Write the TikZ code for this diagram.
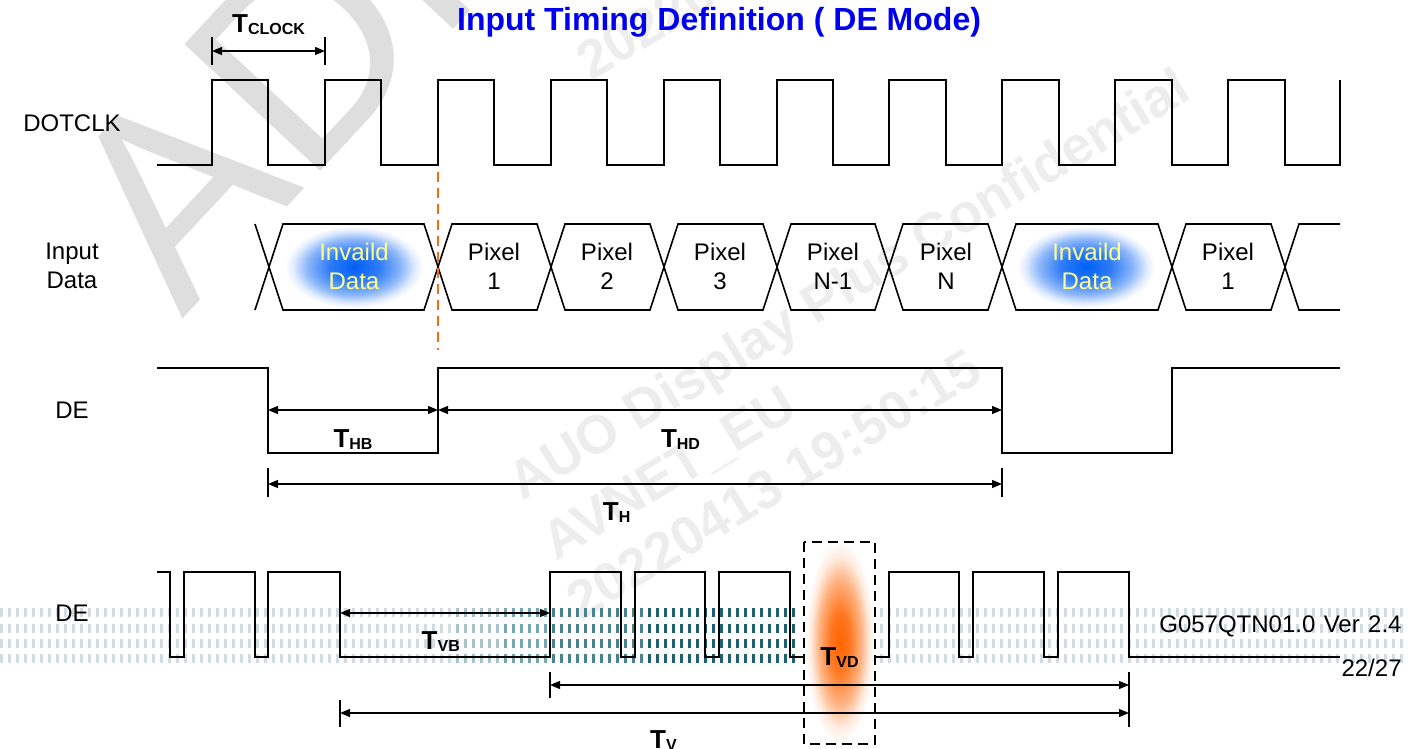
\documentclass[tikz,border=0pt]{standalone}
\usepackage{fontspec}
\setmainfont{Liberation Sans}
\usetikzlibrary{arrows.meta}
\definecolor{titleblue}{RGB}{0,0,240}
\definecolor{cutorange}{RGB}{240,110,30}
\definecolor{stripelight}{RGB}{208,220,226}
\definecolor{stripemid}{RGB}{120,165,175}
\definecolor{stripedark}{RGB}{30,95,112}
\definecolor{glowblue}{RGB}{0,95,245}
\definecolor{gloworange}{RGB}{255,100,0}
\definecolor{invalidtext}{RGB}{255,255,140}
\pgfdeclareradialshading{blueglow}{\pgfpoint{0bp}{0bp}}{color(0bp)=(glowblue);color(9bp)=(glowblue!82!white);color(17bp)=(glowblue!45!white);color(22bp)=(glowblue!12!white);color(25bp)=(white);color(50bp)=(white)}
\pgfdeclareradialshading{orangeglow}{\pgfpoint{0bp}{0bp}}{color(0bp)=(gloworange);color(7bp)=(gloworange!88!white);color(15bp)=(gloworange!50!white);color(21bp)=(gloworange!12!white);color(25bp)=(white);color(50bp)=(white)}
\newcommand{\tlab}[1]{\textbf{\fontsize{13}{13}\selectfont T\raisebox{-1pt}{\fontsize{8}{8}\selectfont #1}}}
\tikzset{
	wave/.style={line width=0.8pt},
	dim/.style={line width=0.6pt,{Triangle[length=5pt,width=4pt]}-{Triangle[length=5pt,width=4pt]}},
	dimtick/.style={line width=0.6pt},
	siglabel/.style={font=\fontsize{12}{14.5}\selectfont,align=center},
	stripe/.style={line width=4.5pt,dash pattern=on 1.5pt off 2.5pt},
	watermark/.style={rotate=31,anchor=base west,text=black!7,font=\fontsize{27}{27}\bfseries\selectfont}
}
\begin{document}
\begin{tikzpicture}[x=0.5pt,y=-0.5pt]
		\useasboundingbox(0,0)rectangle(1421,749);
		\begin{scope}
			\clip(0,0)rectangle(1421,749);
			\node[rotate=47,anchor=base west,inner sep=0pt,text=black!13,font=\fontsize{135}{135}\selectfont](wmbig)at(182,320){ADP};
			\node[watermark](wmconf)at(516,505){AUO Display Plus Confidential};
			\node[watermark](wmavnet)at(550,565){AVNET\_EU};
			\node[watermark](wmdate)at(575,625){20220413 19:50:15};
			\node[watermark](wmdatetop)at(585,85){20220413 19:50:15};
		\end{scope}
		\draw[stripe,stripelight](0,612)--(800,612)(0,628)--(800,628)(0,643)--(800,643)(0,658)--(800,658);
		\draw[stripe,stripelight](880,612)--(1408,612)(880,628)--(1408,628)(880,643)--(1408,643)(880,658)--(1408,658);
		\draw[stripe,stripemid!45!stripelight](456,612)--(504,612)(456,628)--(504,628)(456,643)--(504,643)(456,658)--(504,658);
		\draw[stripe,stripemid](504,612)--(552,612)(504,628)--(552,628)(504,643)--(552,643)(504,658)--(552,658);
		\draw[stripe,stripemid!50!stripedark](552,612)--(648,612)(552,628)--(648,628)(552,643)--(648,643)(552,658)--(648,658);
		\draw[stripe,stripedark](648,612)--(800,612)(648,628)--(800,628)(648,643)--(800,643)(648,658)--(800,658);
		\node[text=titleblue,font=\fontsize{16}{16}\bfseries\selectfont](title)at(719,22){Input Timing Definition ( DE Mode)};
		\node[siglabel](lblclk)at(72,123){DOTCLK};
		\node[siglabel](lbldata)at(72,266){Input\\Data};
		\node[siglabel](lblde)at(72,410){DE};
		\node[siglabel](lblvde)at(72,613){DE};
		\draw[wave](157,165)-|(212,80)-|(268,165)-|(325,80)-|(381,165)-|(438,80)-|(494,165)-|(551,80)-|(607,165)-|(664,80)-|(720,165)-|(777,80)-|(833,165)-|(889,80)-|(946,165)-|(1002,80)-|(1059,165)-|(1115,80)-|(1172,165)-|(1228,80)-|(1285,165)-|(1340,80);
		\coordinate(ck1)at(212,51);
		\coordinate(ck2)at(325,51);
		\draw[dimtick](212,37)--(212,65);
		\draw[dimtick](325,37)--(325,65);
		\draw[dim](ck1)--(ck2)node[midway,yshift=13pt]{\tlab{CLOCK}};
		\shade[shading=blueglow](285,226)rectangle(423,308);
		\shade[shading=blueglow](1017,226)rectangle(1155,308);
		\draw[wave](255,310)--(269,267)--(283,224)--(424,224)--(438,267)--(452,224)--(537,224)--(551,267)--(565,224)--(650,224)--(664,267)--(678,224)--(763,224)--(777,267)--(791,224)--(875,224)--(889,267)--(903,224)--(988,224)--(1002,267)--(1016,224)--(1158,224)--(1172,267)--(1186,224)--(1271,224)--(1285,267)--(1299,224)--(1340,224);
		\draw[wave](255,224)--(269,267)--(283,310)--(424,310)--(438,267)--(452,310)--(537,310)--(551,267)--(565,310)--(650,310)--(664,267)--(678,310)--(763,310)--(777,267)--(791,310)--(875,310)--(889,267)--(903,310)--(988,310)--(1002,267)--(1016,310)--(1158,310)--(1172,267)--(1186,310)--(1271,310)--(1285,267)--(1299,310)--(1340,310);
		\node[siglabel,text=invalidtext](inv1)at(354,266){Invaild\\Data};
		\node[siglabel](px1)at(494,266){Pixel\\1};
		\node[siglabel](px2)at(607,266){Pixel\\2};
		\node[siglabel](px3)at(720,266){Pixel\\3};
		\node[siglabel](pxn1)at(833,266){Pixel\\N-1};
		\node[siglabel](pxn)at(946,266){Pixel\\N};
		\node[siglabel,text=invalidtext](inv2)at(1087,266){Invaild\\Data};
		\node[siglabel](pxa)at(1228,266){Pixel\\1};
		\draw[cutorange,line width=1pt,dash pattern=on 5pt off 3pt](438,172)--(438,350);
		\draw[wave](157,368)-|(268,453)-|(438,368)-|(1002,453)-|(1172,368)--(1340,368);
		\coordinate(hb1)at(268,410);
		\coordinate(hb2)at(438,410);
		\coordinate(hd2)at(1002,410);
		\coordinate(h1)at(268,484);
		\coordinate(h2)at(1002,484);
		\draw[dim](hb1)--(hb2)node[midway,yshift=-15pt]{\tlab{HB}};
		\draw[dim](hb2)--(hd2)node[pos=0.43,yshift=-15pt]{\tlab{HD}};
		\draw[dimtick](268,468)--(268,497);
		\draw[dimtick](1002,468)--(1002,497);
		\draw[dim](h1)--(h2)node[pos=0.475,yshift=-14.5pt]{\tlab{H}};
		\shade[shading=orangeglow](805,540)rectangle(875,744);
		\draw[wave](157,572)-|(170,657)-|(184,572)-|(255,657)-|(268,572)-|(340,657)-|(550,572)-|(621,657)-|(635,572)-|(705,657)-|(719,572)-|(790,657)--(804,657);
		\draw[wave](875,657)-|(889,572)-|(959,657)-|(973,572)-|(1044,657)-|(1058,572)-|(1129,657)--(1340,657);
		\draw[line width=1pt,dash pattern=on 5pt off 3pt](804,542)rectangle(875,744);
		\coordinate(vb1)at(340,613);
		\coordinate(vb2)at(550,613);
		\coordinate(vd1)at(550,685);
		\coordinate(vd2)at(1129,685);
		\coordinate(v1)at(340,713);
		\coordinate(v2)at(1129,713);
		\draw[dim](vb1)--(vb2)node[pos=0.48,yshift=-14.5pt]{\tlab{VB}};
		\draw[dimtick](550,672)--(550,698);
		\draw[dimtick](1129,672)--(1129,727);
		\draw[dimtick](340,700)--(340,727);
		\draw[dim](vd1)--(vd2)node[midway,yshift=13.5pt]{\tlab{VD}};
		\draw[dim](v1)--(v2)node[pos=0.41,yshift=-14pt]{\tlab{V}};
		\node[siglabel,anchor=base east,inner sep=0pt](docid)at(1402,632){G057QTN01.0\hspace{0.35em}Ver\hspace{0.35em}2.4};
		\node[siglabel,anchor=base east,inner sep=0pt](pageno)at(1402,676){22/27};
\end{tikzpicture}
\end{document}
